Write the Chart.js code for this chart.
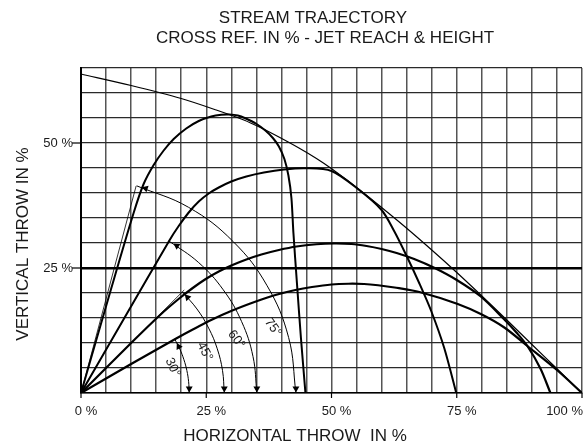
<!DOCTYPE html>
<html>
<head>
<meta charset="utf-8">
<script src="https://cdn.jsdelivr.net/npm/chart.js@4"></script>
<style>
  html, body { margin: 0; padding: 0; background: #fff; }
  #box { width: 586px; height: 445px; }
</style>
</head>
<body>
<div id="box"><canvas id="chart" width="586" height="445"></canvas></div>
<script>
// --- titles & axis text ---
const titleLines = ['STREAM TRAJECTORY', 'CROSS REF. IN % - JET REACH & HEIGHT'];
const xTitle = 'HORIZONTAL THROW  IN %';
const yTitle = 'VERTICAL THROW IN %';
const xTickValues = [0, 25, 50, 75, 100];
const xTickLabels = ['0 %', '25 %', '50 %', '75 %', '100 %'];
const yTickValues = [25, 50];
const yTickLabels = ['25 %', '50 %'];

// --- curves (x %, y %) ---
const envelopeX = [0, 10, 20, 27, 32.5, 36, 39.5, 43.5, 47, 50.1, 55.4, 60, 64.6, 69.9, 74.9, 79.8, 85, 90, 95, 100];
const envelopeY = [63.8, 61.5, 58.9, 56.6, 54.6, 53.0, 51.2, 49.0, 46.9, 44.8, 40.8, 37.1, 33.3, 28.7, 24.2, 19.6, 14.6, 9.7, 4.85, 0];

const traj75X = [0, 6, 10.5, 12.5, 14.5, 16.5, 18.5, 21, 23.5, 26, 28, 29.6, 31.3, 32.9, 34.9, 36.8, 38.3, 39.5, 40.6, 41.4, 42, 42.4, 43.1, 43.9, 44.8];
const traj75Y = [0, 20.8, 36, 41.8, 45.6, 48.5, 50.8, 52.9, 54.4, 55.3, 55.65, 55.7, 55.5, 54.9, 53.9, 52.5, 51, 49.3, 46.8, 43.5, 39, 32, 22, 11, 0];

const traj60X = [0, 9, 17.7, 19.5, 21.5, 23.5, 25.5, 27.5, 30, 33, 36.5, 40.5, 44.8, 50, 55.4, 60, 62.5, 64.9, 67.5, 69.9, 72.5, 74.9];
const traj60Y = [0, 15.6, 30.6, 33.4, 36.1, 38.3, 39.9, 41.1, 42.3, 43.3, 44.1, 44.7, 44.95, 44.4, 40.7, 36.6, 32.4, 27.6, 22, 16.4, 9, 0];

const traj45X = [0, 10, 16, 19.6, 22.3, 24.9, 27.5, 30, 33, 36, 39.5, 43, 47, 50.5, 54, 57, 60, 63, 66.5, 70.6, 75, 79.8, 84.5, 87, 89.1, 91.7, 93.7];
const traj45Y = [0, 10, 15.8, 18.9, 21, 22.8, 24.3, 25.5, 26.7, 27.7, 28.6, 29.3, 29.75, 29.9, 29.8, 29.4, 28.8, 28, 26.8, 25, 22.6, 19.3, 14.7, 12, 9.4, 4.9, 0];

const traj30X = [0, 10, 19, 22.5, 26.2, 30.2, 34.9, 38.8, 42.8, 46.1, 50, 53.4, 56.5, 59.3, 62.6, 67.9, 75.2, 80, 84.5, 89.1, 95, 100];
const traj30Y = [0, 5.8, 10.9, 12.8, 14.7, 16.5, 18.3, 19.6, 20.6, 21.2, 21.7, 21.85, 21.8, 21.55, 21.1, 20.1, 17.8, 15.7, 13.1, 9.4, 4.6, 0];

// angle arcs (from the jet line down to the x axis)
const arc30X = [18.7, 19.73, 20.54, 21.13, 21.48, 21.6];
const arc30Y = [10.8, 8.78, 6.67, 4.49, 2.26, 0];
const arc45X = [20.22, 23.14, 25.48, 27.2, 28.25, 28.6];
const arc45Y = [20.22, 16.81, 12.98, 8.84, 4.47, 0];
const arc60X = [17.55, 23.49, 28.4, 32.06, 34.33, 35.1];
const arc60Y = [30.4, 26.08, 20.63, 14.28, 7.3, 0];
const arc75X = [11.1, 21.45, 30.33, 37.15, 41.44, 42.9];
const arc75Y = [41.44, 37.15, 30.33, 21.45, 11.1, 0];

// thin jet-angle lines from the nozzle
const rayEndX = [19.1, 20.6, 17.8, 11.0];
const rayEndY = [11.0, 20.6, 30.8, 41.4];

// arrow heads on the arcs
const arrowX = [19.5, 21.25, 19.12, 12.9, 21.6, 28.6, 35.1, 42.9];
const arrowY = [9.3, 19.14, 29.44, 40.91, 0.9, 0.9, 0.9, 0.9];
const arrowRot = [-28, -43, -57, -72, 180, 180, 180, 180];

const angleLabels = ['30°', '45°', '60°', '75°'];

function pts(xs, ys) { return xs.map((x, i) => ({ x: x, y: ys[i] })); }

function curve(xs, ys, width, tension) {
    return {
        data: pts(xs, ys),
        showLine: true,
        borderColor: '#000',
        borderWidth: width,
        pointRadius: 0,
        tension: tension,
        fill: false
    };
}

const datasets = [
    curve(envelopeX, envelopeY, 1.2, 0.3),
    curve(traj75X, traj75Y, 2, 0.3),
    curve(traj60X, traj60Y, 2, 0.3),
    curve(traj45X, traj45Y, 2.2, 0.3),
    curve(traj30X, traj30Y, 2.2, 0.3),
    curve(arc30X, arc30Y, 1, 0.4),
    curve(arc45X, arc45Y, 1, 0.4),
    curve(arc60X, arc60Y, 1, 0.4),
    curve(arc75X, arc75Y, 1, 0.4)
];
rayEndX.forEach((x, i) => {
    datasets.push(curve([0, x], [0, rayEndY[i]], 0.8, 0));
});
datasets.push({
    data: pts(arrowX, arrowY),
    showLine: false,
    pointStyle: 'triangle',
    pointRadius: 4,
    pointRotation: arrowRot,
    backgroundColor: '#000',
    borderColor: '#000',
    borderWidth: 0
});

// where the angle labels sit along the arcs (data coords) and their tilt
const labelAt = [[18.3, 5.1, 64], [24.7, 8.3, 62], [31, 10.7, 52], [38.3, 13.1, 54]];

const FONT = '"Liberation Sans", Arial, sans-serif';

const overlay = {
    id: 'overlay',
    afterDraw(chart) {
        const { ctx } = chart;
        const x = chart.scales.x, y = chart.scales.y;
        ctx.save();
        ctx.fillStyle = '#1a1a1a';
        ctx.strokeStyle = '#000';

        // titles
        ctx.font = '17px ' + FONT;
        ctx.textAlign = 'center';
        ctx.textBaseline = 'alphabetic';
        ctx.fillText(titleLines[0], 313, 23);
        ctx.fillText(titleLines[1], 325, 43);
        ctx.fillText(xTitle, 295, 441);
        ctx.save();
        ctx.translate(28, 244);
        ctx.rotate(-Math.PI / 2);
        ctx.fillText(yTitle, 0, 0);
        ctx.restore();

        // tick marks + labels
        ctx.font = '13px ' + FONT;
        ctx.lineWidth = 1.2;
        const y0 = y.getPixelForValue(0);
        xTickValues.forEach((v, i) => {
            const px = x.getPixelForValue(v);
            ctx.beginPath();
            ctx.moveTo(px, y0);
            ctx.lineTo(px, y0 + 5);
            ctx.stroke();
            const w = ctx.measureText(xTickLabels[i]).width;
            let cx = px + 5;
            if (cx + w / 2 > 583) cx = 583 - w / 2;
            ctx.textAlign = 'center';
            ctx.fillText(xTickLabels[i], cx, 415);
        });
        const x0 = x.getPixelForValue(0);
        yTickValues.forEach((v, i) => {
            const py = y.getPixelForValue(v);
            ctx.beginPath();
            ctx.moveTo(x0 - 9, py);
            ctx.lineTo(x0, py);
            ctx.stroke();
            ctx.textAlign = 'right';
            ctx.textBaseline = 'middle';
            ctx.fillText(yTickLabels[i], x0 - 8, py);
            ctx.textBaseline = 'alphabetic';
        });

        // angle labels
        ctx.font = '13px ' + FONT;
        ctx.textAlign = 'center';
        ctx.textBaseline = 'middle';
        angleLabels.forEach((t, i) => {
            const a = labelAt[i];
            ctx.save();
            ctx.translate(x.getPixelForValue(a[0]), y.getPixelForValue(a[1]));
            ctx.rotate(a[2] * Math.PI / 180);
            ctx.fillText(t, 0, 0);
            ctx.restore();
        });
        ctx.restore();
    }
};

new Chart(document.getElementById('chart').getContext('2d'), {
    type: 'scatter',
    data: { datasets: datasets },
    options: {
        responsive: false,
        animation: false,
        layout: { padding: { left: 81, right: 2, top: 68, bottom: 52 } },
        plugins: { legend: { display: false }, tooltip: { enabled: false }, title: { display: false } },
        scales: {
            x: {
                type: 'linear', min: 0, max: 100,
                ticks: { stepSize: 5, display: false },
                grid: { color: '#555', lineWidth: 1.5, drawTicks: false },
                border: { display: true, color: '#000', width: 1.5 }
            },
            y: {
                type: 'linear', min: 0, max: 65,
                ticks: { stepSize: 5, display: false },
                grid: {
                    color: ctx => ctx.tick && ctx.tick.value === 25 ? '#000' : '#2a2a2a',
                    lineWidth: ctx => ctx.tick && ctx.tick.value === 25 ? 2.6 : 1.2,
                    drawTicks: false
                },
                border: { display: true, color: '#000', width: 2 }
            }
        }
    },
    plugins: [overlay]
});
</script>
</body>
</html>
